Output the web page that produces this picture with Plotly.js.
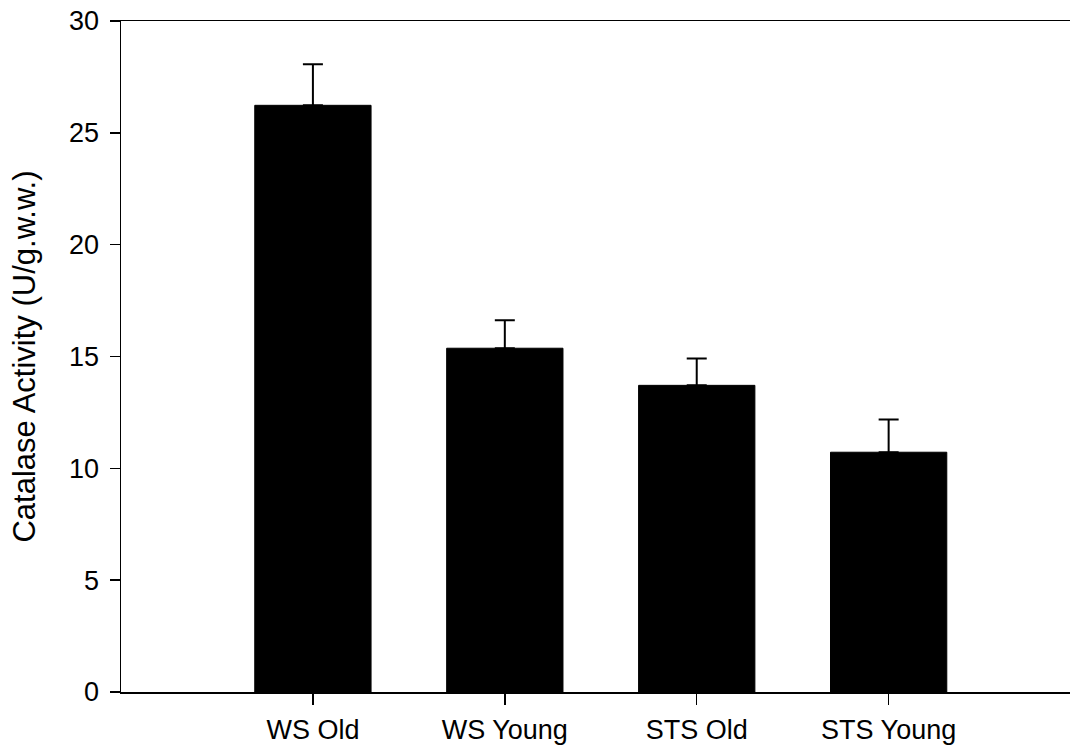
<!DOCTYPE html>
<html>
<head>
<meta charset="utf-8">
<script src="https://cdn.plot.ly/plotly-3.0.1.min.js"></script>
<style>html,body{margin:0;padding:0;background:#fff;}#chart{width:1070px;height:748px;}</style>
</head>
<body>
<div id="chart"></div>
<script>
const categories = ["WS Old", "WS Young", "STS Old", "STS Young"];
const positions = [0, 1, 2, 3];
const means = [26.23, 15.37, 13.71, 10.72];
const errors = [1.84, 1.25, 1.20, 1.46];
const yTickVals = [0, 5, 10, 15, 20, 25, 30];
const yTitle = "Catalase Activity (U/g.w.w.)";

const font = "Arial, 'Liberation Sans', sans-serif";

const trace = {
  type: "bar",
  x: positions,
  y: means,
  width: 0.606,
  marker: { color: "#000000", line: { color: "#000000", width: 1 } },
  error_y: { type: "data", array: errors, symmetric: false, arrayminus: errors.map(() => 0),
             visible: true, color: "#000000", thickness: 2, width: 10 },
  hoverinfo: "none"
};

const layout = {
  width: 1070,
  height: 748,
  margin: { l: 121, r: 0, t: 21, b: 56 },
  paper_bgcolor: "#ffffff",
  plot_bgcolor: "#ffffff",
  showlegend: false,
  xaxis: {
    range: [-1, 3.945],
    tickvals: positions,
    ticktext: categories,
    ticks: "outside",
    ticklen: 11,
    tickwidth: 1.5,
    tickcolor: "#000",
    ticklabelstandoff: 2,
    showline: true,
    linecolor: "#000",
    linewidth: 1.5,
    mirror: true,
    showgrid: false,
    zeroline: false,
    tickfont: { family: font, size: 27, color: "#000" },
    fixedrange: true
  },
  yaxis: {
    range: [0, 30],
    tickvals: yTickVals,
    ticks: "outside",
    ticklen: 10,
    tickwidth: 1.5,
    tickcolor: "#000",
    ticklabelstandoff: 5,
    showline: true,
    linecolor: "#000",
    linewidth: 1.5,
    showgrid: false,
    zeroline: false,
    tickfont: { family: font, size: 27, color: "#000" },
    title: { text: yTitle, font: { family: font, size: 31, color: "#000" }, standoff: 24 },
    fixedrange: true
  }
};

Plotly.newPlot("chart", [trace], layout, { displayModeBar: false, staticPlot: true });
</script>
</body>
</html>
